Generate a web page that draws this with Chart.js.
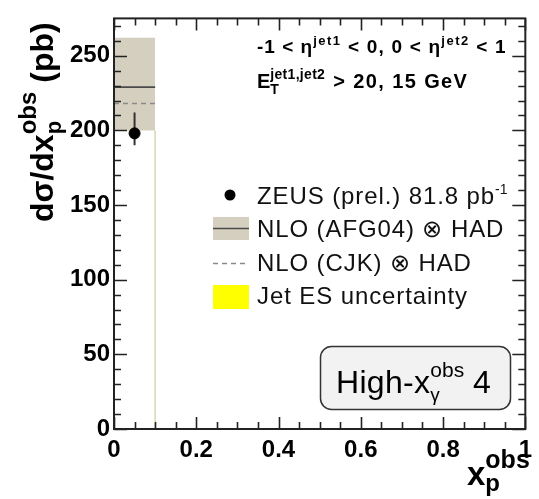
<!DOCTYPE html>
<html>
<head>
<meta charset="utf-8">
<script src="https://cdn.jsdelivr.net/npm/chart.js@4/dist/chart.umd.min.js"></script>
<style>
  html, body { margin: 0; padding: 0; background: #ffffff; }
  #wrap { width: 539px; height: 499px; }
</style>
</head>
<body>
<div id="wrap"><canvas id="c" width="539" height="499"></canvas></div>
<script>
// x_p^obs bin (single bin in this high-x_gamma region)
const binEdges = [0, 0.1];

// NLO (AFG04) x HAD: central value and uncertainty band, pb
const nloAfg = [229];
const nloAfgLow = [200];
const nloAfgHigh = [262];

// NLO (CJK) x HAD central value, pb
const nloCjk = [218];

// ZEUS (prel.) measurement, pb
const zeusX = [0.05];
const zeusY = [198];
const zeusErrLow = [190];
const zeusErrHigh = [212];

// axis ticks
const xMajorTicks = [0, 0.2, 0.4, 0.6, 0.8, 1];
const xMinorStep = 0.05;
const yMajorTicks = [0, 50, 100, 150, 200, 250];
const yMinorStep = 10;
const xRange = [0, 1];
const yRange = [0, 275];

const legendLabels = ['ZEUS (prel.) 81.8 pb', 'NLO (AFG04) \u2297 HAD', 'NLO (CJK) \u2297 HAD', 'Jet ES uncertainty'];

const FONT = '"Liberation Sans", Arial, Helvetica, sans-serif';
const BAND = '#d4cfbe';

function hSeg(values, edges) {
  // horizontal step across the bin
  return [{ x: edges[0], y: values[0] }, { x: edges[1], y: values[0] }];
}

// higher order values are drawn first (underneath)
const datasets = [
  { order: 10, data: hSeg(nloAfgHigh, binEdges), borderWidth: 0, pointRadius: 0, fill: '+1', backgroundColor: BAND, borderColor: BAND },
  { order: 9, data: hSeg(nloAfgLow, binEdges), borderWidth: 0, pointRadius: 0, fill: false, borderColor: BAND },
  { order: 8, data: [{ x: binEdges[1], y: 0 }, { x: binEdges[1], y: nloAfgLow[0] }], borderWidth: 1.5, pointRadius: 0, borderColor: '#d9d7b4', fill: false },
  { order: 4, data: hSeg(nloAfg, binEdges), borderWidth: 1.6, pointRadius: 0, borderColor: '#4a4a4a', fill: false },
  { order: 3, data: hSeg(nloCjk, binEdges), borderWidth: 1.4, pointRadius: 0, borderColor: '#8a8a8a', borderDash: [5, 4], fill: false },
  { order: 2, data: [{ x: zeusX[0], y: zeusErrLow[0] }, { x: zeusX[0], y: zeusErrHigh[0] }], borderWidth: 2, pointRadius: 0, borderColor: '#333333', fill: false },
  { order: 1, data: zeusX.map((x, i) => ({ x, y: zeusY[i] })), showLine: false, pointRadius: 5.5, pointBackgroundColor: '#000', pointBorderColor: '#000' }
];

function drawRich(ctx, x, y, parts) {
  let cx = x;
  for (const p of parts) {
    if (p.stack) {
      let w = 0;
      for (const q of p.stack) {
        ctx.font = q.font; ctx.letterSpacing = q.ls || '0px';
        ctx.fillText(q.t, cx, y + (q.dy || 0));
        w = Math.max(w, ctx.measureText(q.t).width);
      }
      cx += w + (p.gap || 0);
    } else {
      ctx.font = p.font; ctx.letterSpacing = p.ls || '0px';
      ctx.fillText(p.t, cx + (p.dx || 0), y + (p.dy || 0));
      cx += ctx.measureText(p.t).width + (p.dx || 0);
    }
  }
  ctx.letterSpacing = '0px';
  return cx;
}

const framePlugin = {
  id: 'frame',
  afterDraw(chart) {
    const ctx = chart.ctx;
    const a = chart.chartArea;
    const xs = chart.scales.x, ys = chart.scales.y;
    ctx.save();
    ctx.strokeStyle = '#222';
    ctx.lineWidth = 1.6;
    // inward ticks on all four sides
    ctx.beginPath();
    for (let v = xRange[0]; v <= xRange[1] + 1e-9; v += xMinorStep) {
      const px = Math.round(xs.getPixelForValue(v)) + 0.5;
      const major = xMajorTicks.some(t => Math.abs(t - v) < 1e-6);
      const len = major ? 12 : 7;
      ctx.moveTo(px, a.bottom); ctx.lineTo(px, a.bottom - len);
      ctx.moveTo(px, a.top); ctx.lineTo(px, a.top + len);
    }
    for (let v = yRange[0]; v <= yRange[1] + 1e-9; v += yMinorStep) {
      const py = Math.round(ys.getPixelForValue(v)) + 0.5;
      const major = yMajorTicks.includes(v);
      const len = major ? 13 : 7;
      ctx.moveTo(a.left, py); ctx.lineTo(a.left + len, py);
      ctx.moveTo(a.right, py); ctx.lineTo(a.right - len, py);
    }
    ctx.stroke();
    // frame
    ctx.lineWidth = 2;
    ctx.strokeRect(a.left, a.top, a.right - a.left, a.bottom - a.top);

    ctx.fillStyle = '#000';
    ctx.textBaseline = 'alphabetic';
    ctx.textAlign = 'left';

    // selection cuts
    const B = (s) => 'bold ' + s + 'px ' + FONT;
    drawRich(ctx, 257, 53, [
      { t: '-1 < \u03b7', font: B(19), ls: '1px' },
      { t: 'jet1', font: B(13), dy: -8, ls: '1.5px' },
      { t: ' < 0, 0 < \u03b7', font: B(19), ls: '1.2px' },
      { t: 'jet2', font: B(13), dy: -8, ls: '1.5px' },
      { t: ' < 1', font: B(19), ls: '1.2px' }
    ]);
    drawRich(ctx, 257, 88, [
      { t: 'E', font: B(20) },
      { stack: [{ t: 'jet1,jet2', font: B(14), dy: -9, ls: '0.3px' }, { t: 'T', font: B(14), dy: 6 }], gap: 1 },
      { t: ' > 20, 15 GeV', font: B(20), ls: '1.4px' }
    ]);

    // legend
    const reg = '24px ' + FONT;
    const regLs = '0.9px';
    const sx0 = 213, sx1 = 249;
    const rows = [203.5, 237, 270.5, 304];
    ctx.fillStyle = '#000';
    ctx.beginPath(); ctx.arc(230, 195, 5.5, 0, Math.PI * 2); ctx.fill();
    ctx.fillStyle = BAND; ctx.fillRect(sx0, 217, sx1 - sx0, 23);
    ctx.strokeStyle = '#4a4a4a'; ctx.lineWidth = 1.6;
    ctx.beginPath(); ctx.moveTo(sx0, 228.5); ctx.lineTo(sx1, 228.5); ctx.stroke();
    ctx.strokeStyle = '#8a8a8a'; ctx.lineWidth = 1.4; ctx.setLineDash([5, 4]);
    ctx.beginPath(); ctx.moveTo(sx0, 263.5); ctx.lineTo(sx1, 263.5); ctx.stroke();
    ctx.setLineDash([]);
    ctx.fillStyle = '#ffff00'; ctx.fillRect(sx0, 285, sx1 - sx0, 24);
    ctx.fillStyle = '#111';
    drawRich(ctx, 257, rows[0], [
      { t: legendLabels[0], font: reg, ls: regLs },
      { t: '-1', font: '14px ' + FONT, dy: -10 }
    ]);
    for (let i = 1; i < legendLabels.length; i++) {
      drawRich(ctx, 257, rows[i], [{ t: legendLabels[i], font: reg, ls: regLs }]);
    }

    // region label box
    ctx.fillStyle = '#f2f2f2';
    ctx.strokeStyle = '#333';
    ctx.lineWidth = 1.5;
    ctx.beginPath(); ctx.roundRect(320.5, 346.5, 190, 63, 11); ctx.fill(); ctx.stroke();
    ctx.fillStyle = '#000';
    drawRich(ctx, 336, 393, [
      { t: 'High-x', font: '32px ' + FONT, ls: '0.3px' },
      { stack: [{ t: 'obs', font: '21px ' + FONT, dy: -16 }, { t: '\u03b3', font: '19px ' + FONT, dy: 8 }], gap: 0 },
      { t: ' 4', font: '32px ' + FONT }
    ]);

    // axis titles
    drawRich(ctx, 467, 485, [
      { t: 'x', font: B(33) },
      { stack: [{ t: 'obs', font: B(25), dy: -17 }, { t: 'p', font: B(24), dy: 6 }] }
    ]);
    ctx.save();
    ctx.translate(53, 222);
    ctx.rotate(-Math.PI / 2);
    drawRich(ctx, 0, 0, [
      { t: 'd\u03c3/dx', font: B(32) },
      { stack: [{ t: 'obs', font: B(24), dy: -17 }, { t: 'p', font: B(22), dy: 8 }] },
      { t: ' (pb)', font: B(32) }
    ]);
    ctx.restore();
    ctx.restore();
  }
};

new Chart(document.getElementById('c'), {
  type: 'line',
  data: { datasets },
  options: {
    responsive: false,
    animation: false,
    events: [],
    layout: { padding: { left: 0, top: 14, right: 10, bottom: 0 } },
    plugins: { legend: { display: false }, tooltip: { enabled: false } },
    scales: {
      x: {
        type: 'linear', min: xRange[0], max: xRange[1],
        grid: { display: false, drawTicks: false }, border: { display: false },
        afterBuildTicks: (s) => { s.ticks = xMajorTicks.map(v => ({ value: v })); },
        afterFit: (s) => { s.height = 70; },
        ticks: {
          padding: 7, color: '#000', maxRotation: 0, autoSkip: false,
          font: { family: FONT, size: 24, weight: 'bold' },
          callback: (v) => String(v)
        }
      },
      y: {
        type: 'linear', min: yRange[0], max: yRange[1],
        grid: { display: false, drawTicks: false }, border: { display: false },
        afterBuildTicks: (s) => { s.ticks = yMajorTicks.map(v => ({ value: v })); },
        afterFit: (s) => { s.width = 114; },
        ticks: {
          padding: 4, color: '#000', autoSkip: false,
          font: { family: FONT, size: 24, weight: 'bold' },
          callback: (v) => String(v)
        }
      }
    }
  },
  plugins: [framePlugin]
});
</script>
</body>
</html>
